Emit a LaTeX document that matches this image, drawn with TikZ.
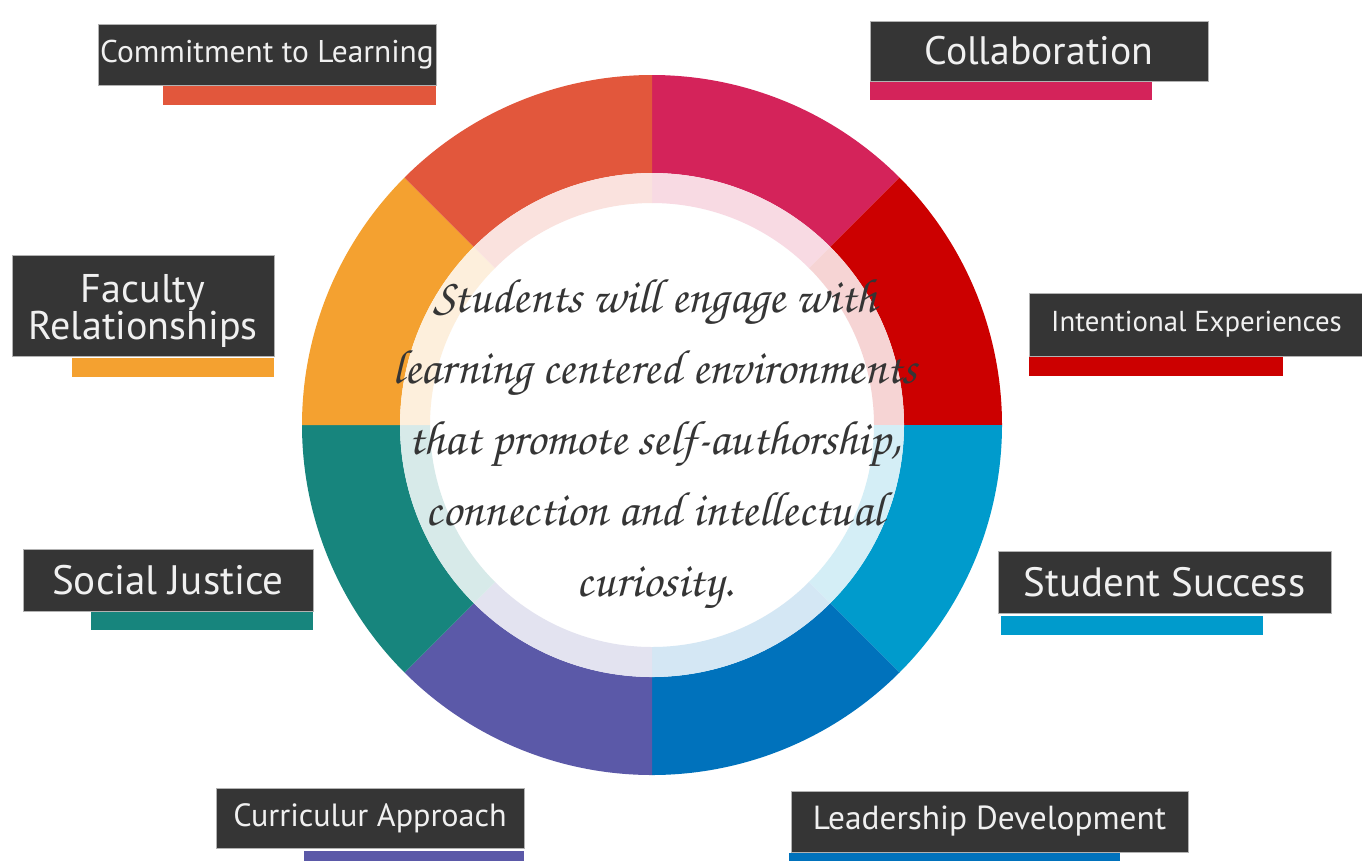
\documentclass[tikz,border=0pt]{standalone}
\usepackage{fontspec}
\setmainfont{PT Sans}
\newfontfamily\chorus{TeX Gyre Chorus}
\usetikzlibrary{positioning}
\definecolor{mcoral}{RGB}{226,87,60}
\definecolor{mpink}{RGB}{212,35,90}
\definecolor{mred}{RGB}{204,0,0}
\definecolor{mcyan}{RGB}{0,155,204}
\definecolor{mblue}{RGB}{0,114,188}
\definecolor{mpurple}{RGB}{91,89,168}
\definecolor{mteal}{RGB}{23,133,125}
\definecolor{morange}{RGB}{244,161,48}
\definecolor{mdark}{RGB}{53,53,53}
\tikzset{
  tagbox/.style={fill=mdark, draw=gray!60, line width=0.5pt, text=white!94!black,
    align=center, inner sep=0pt, minimum height=1.22cm},
}
\begin{document}
\begin{tikzpicture}[x=0.02cm, y=-0.02cm]
    \useasboundingbox[fill=white] (0,0) rectangle (1362,860);

    % ring of eight sectors
    \begin{scope}[shift={(652,425)}, yscale=-1]
      \foreach \s/\c in {45/mpink, 0/mred, -45/mcyan, -90/mblue, -135/mpurple, 180/mteal, 135/morange, 90/mcoral} {
        \fill [\c] (\s:350) arc [start angle=\s, end angle=\s+45, radius=350]
          -- (\s+45:252) arc [start angle=\s+45, end angle=\s, radius=252] -- cycle;
        \fill [\c!17] (\s:252) arc [start angle=\s, end angle=\s+45, radius=252]
          -- (\s+45:222) arc [start angle=\s+45, end angle=\s, radius=222] -- cycle;
      }
    \end{scope}

    \node [text=mdark, align=center, font=\chorus\fontsize{27.5}{40.5}\selectfont] (motto) at (655,444)
      {Students will engage with\\ learning centered environments\\ that promote self-authorship,\\ connection and intellectual\\ curiosity.};

    \node [tagbox, minimum width=6.76cm, font=\fontsize{17.9}{20}\selectfont] (commit) at (267,54.5) {Commitment to Learning};
    \fill [mcoral] (commit.south east) ++(0,1) rectangle ++(-273,19);

    \node [tagbox, minimum width=6.76cm, minimum height=1.2cm, font=\fontsize{22.6}{24}\selectfont] (collab) at (1039,51) {Collaboration};
    \fill [mpink] (collab.south west) ++(0,1) rectangle ++(282,18);

    \node [tagbox, minimum width=5.24cm, minimum height=2.02cm, font=\fontsize{22.8}{21}\selectfont] (faculty) at (143,305.5) {\rule{0pt}{22pt}Faculty\\ Relationships};
    \fill [morange] (faculty.south east) ++(0,2) rectangle ++(-202,19);

    \node [tagbox, minimum width=6.7cm, minimum height=1.26cm, font=\fontsize{16.4}{18}\selectfont] (intent) at (1196.5,324.5) {Intentional Experiences};
    \fill [mred] (intent.south west) ++(0,1) rectangle ++(254,19);

    \node [tagbox, minimum width=5.8cm, minimum height=1.24cm, font=\fontsize{23.4}{25}\selectfont] (social) at (168,580) {Social Justice};
    \fill [mteal] (social.south east) ++(0,1) rectangle ++(-222,18);

    \node [tagbox, minimum width=6.66cm, minimum height=1.24cm, font=\fontsize{23.3}{25}\selectfont] (success) at (1164.5,582) {Student Success};
    \fill [mcyan] (success.south west) ++(3,3) rectangle ++(262,19);

    \node [tagbox, minimum width=6.16cm, minimum height=1.2cm, font=\fontsize{18.3}{20}\selectfont] (curric) at (370,818) {Curriculur Approach};
    \fill [mpurple] (curric.south east) ++(0,3) rectangle ++(-220,12);

    \node [tagbox, minimum width=7.94cm, font=\fontsize{19}{21}\selectfont] (leader) at (989.5,821.5) {Leadership Development};
    \fill [mblue] (leader.south west) ++(-2,1) rectangle ++(331,10);
  \end{tikzpicture}
\end{document}
